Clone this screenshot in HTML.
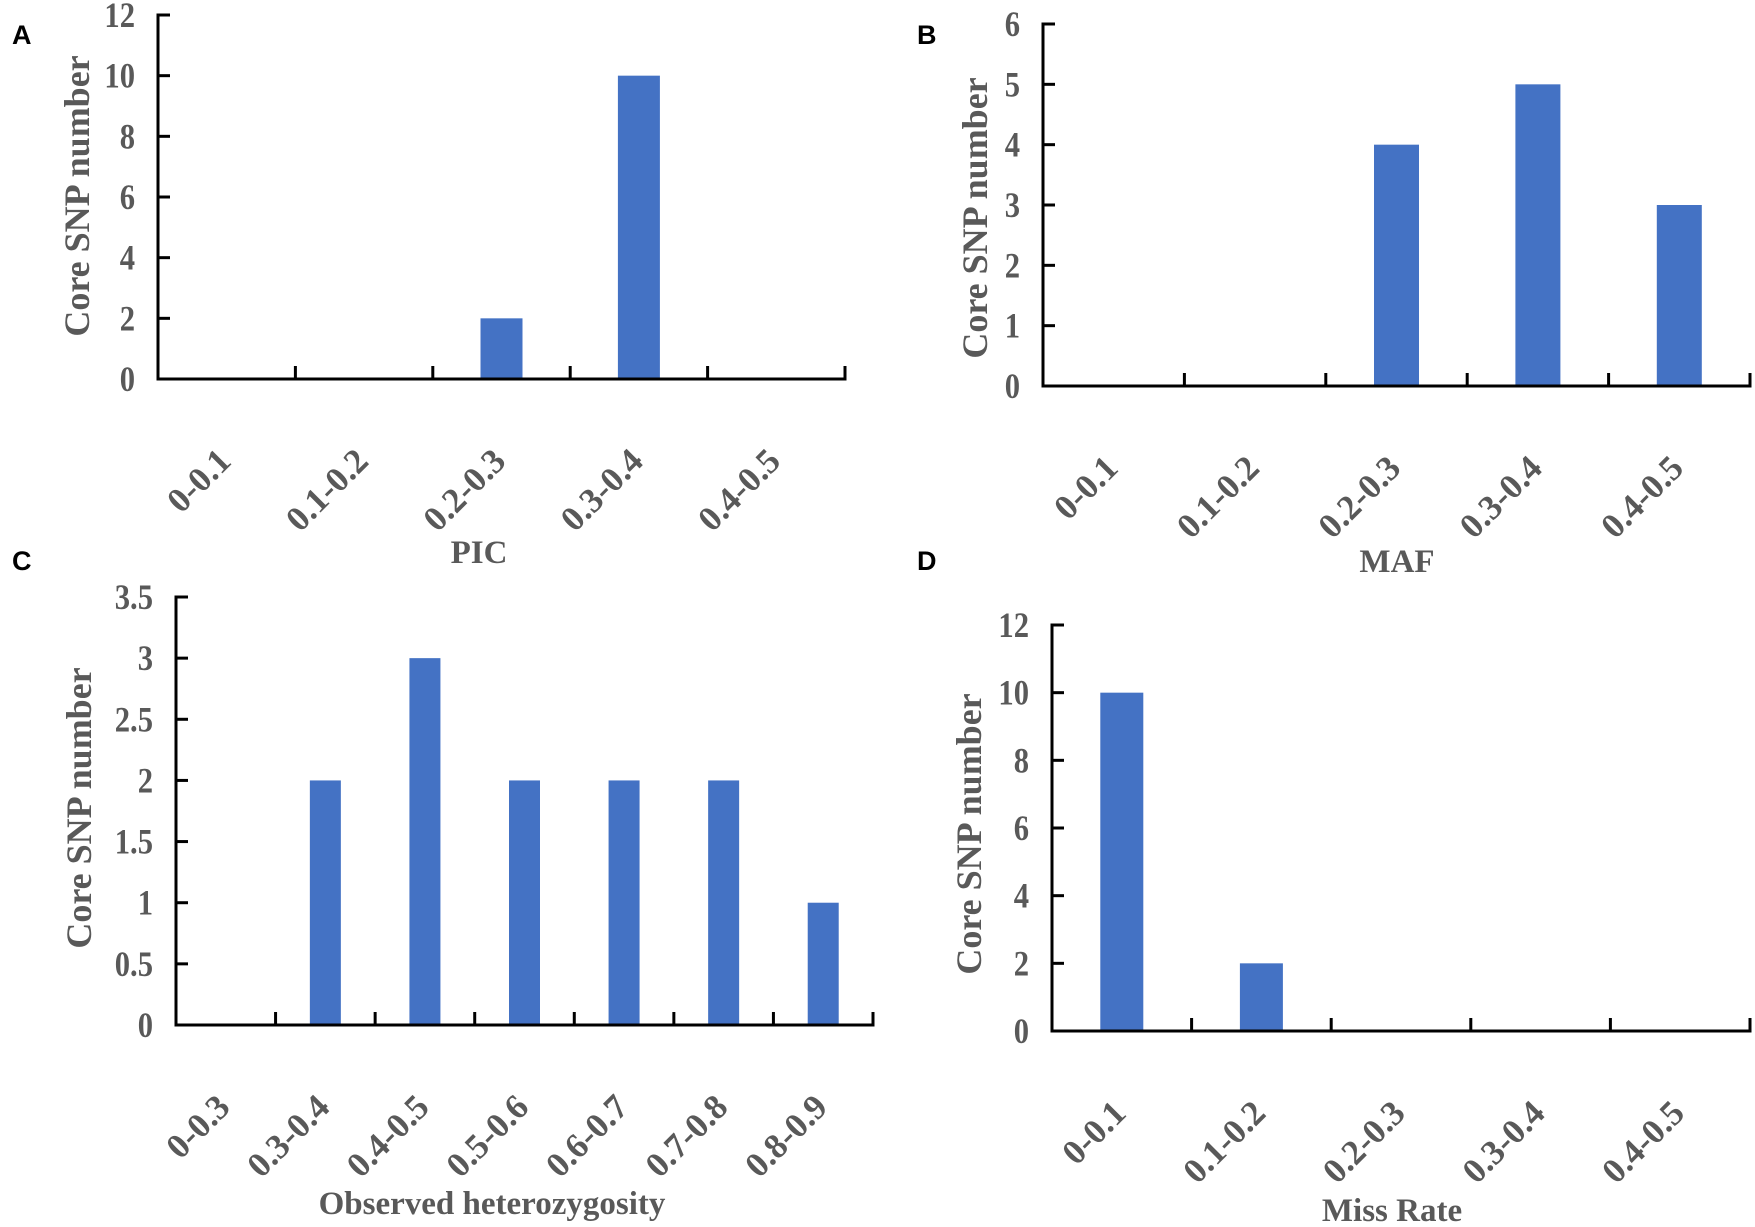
<!DOCTYPE html>
<html><head><meta charset="utf-8"><style>
html,body{margin:0;padding:0;background:#fff;}
svg{display:block;}
.tk{font-family:"Liberation Serif",serif;font-weight:bold;font-size:35px;fill:#595959;}
.ty{font-family:"Liberation Serif",serif;font-weight:bold;font-size:34px;fill:#595959;}
.tt{font-family:"Liberation Serif",serif;font-weight:bold;font-size:33px;fill:#595959;}
.yt{font-family:"Liberation Serif",serif;font-weight:bold;font-size:36px;fill:#595959;}
.pl{font-family:"Liberation Sans",sans-serif;font-weight:bold;font-size:27px;fill:#000;}
</style></head><body>
<svg id="fig" width="1755" height="1227" viewBox="0 0 1755 1227" xmlns="http://www.w3.org/2000/svg"></svg>
<script>
const catsA = ["0-0.1","0.1-0.2","0.2-0.3","0.3-0.4","0.4-0.5"];
const valsA = [0,0,2,10,0];
const ticksA = ["0","2","4","6","8","10","12"];
const catsB = ["0-0.1","0.1-0.2","0.2-0.3","0.3-0.4","0.4-0.5"];
const valsB = [0,0,4,5,3];
const ticksB = ["0","1","2","3","4","5","6"];
const catsC = ["0-0.3","0.3-0.4","0.4-0.5","0.5-0.6","0.6-0.7","0.7-0.8","0.8-0.9"];
const valsC = [0,2,3,2,2,2,1];
const ticksC = ["0","0.5","1","1.5","2","2.5","3","3.5"];
const catsD = ["0-0.1","0.1-0.2","0.2-0.3","0.3-0.4","0.4-0.5"];
const valsD = [10,2,0,0,0];
const ticksD = ["0","2","4","6","8","10","12"];

const NS="http://www.w3.org/2000/svg";
const svg=document.getElementById('fig');
function mk(tag,attrs,parent,text){
  const e=document.createElementNS(NS,tag);
  for(const k in attrs)e.setAttribute(k,attrs[k]);
  if(text!==undefined)e.textContent=text;
  parent.appendChild(e);return e;
}
function panel(id,letter,lx,ly,cats,vals,ticks,g,title,tx,ty,ytx,yty){
  const grp=mk('g',{},svg);
  
  
  const ymax=parseFloat(ticks[ticks.length-1]);
  const yS=v=>g.y0-(v/ymax)*(g.y0-g.yTop);
  const step=(g.x1-g.x0)/cats.length;
  const xC=i=>g.x0+step*(i+0.5);
  const pl=mk('text',{x:lx,y:ly,class:'pl'},grp,letter);
  
  
  vals.forEach((v,i)=>{
    if(v<=0)return;
    const r=mk('rect',{x:xC(i)-g.bw/2,y:yS(v),width:g.bw,height:g.y0-yS(v),fill:'#4472C4'},grp);
    
    
  });
  const ya=mk('line',{x1:g.x0,y1:g.yTop-1.5,x2:g.x0,y2:g.y0+1.5,stroke:'#000','stroke-width':3},grp);
  
  
  const xa=mk('line',{x1:g.x0,y1:g.y0,x2:g.x1+1.5,y2:g.y0,stroke:'#000','stroke-width':3},grp);
  
  
  ticks.forEach(t=>{
    const y=yS(parseFloat(t));
    mk('line',{x1:g.x0,y1:y,x2:g.x0+12,y2:y,stroke:'#000','stroke-width':3},grp);
    const tl=mk('text',{x:0,y:0,'text-anchor':'end',class:'ty',transform:`translate(${g.x0-23} ${y+12}) scale(0.9 1.05)`},grp,t);
    
    
  });
  cats.forEach((c,i)=>{
    const bx=g.x0+step*(i+1);
    mk('line',{x1:bx,y1:g.y0,x2:bx,y2:g.y0-13,stroke:'#000','stroke-width':3},grp);
    const ax=xC(i)+6, ay=g.y0+84;
    const tl=mk('text',{x:ax,y:ay,'text-anchor':'end',class:'tk',transform:`rotate(-45 ${ax} ${ay})`},grp,c);
    
    
  });
  const xt=mk('text',{x:tx,y:ty+11,'text-anchor':'middle',class:'tt'},grp,title);
  
  
  const yt=mk('text',{x:ytx+12,y:yty,'text-anchor':'middle',class:'yt',transform:`rotate(-90 ${ytx+12} ${yty})`},grp,'Core SNP number');
  
  
}
panel('a','A',12,44,catsA,valsA,ticksA,{x0:158,x1:845,yTop:15,y0:379,bw:42},'PIC',479,552,77,196);
panel('b','B',917,44,catsB,valsB,ticksB,{x0:1043,x1:1750,yTop:24,y0:386,bw:45},'MAF',1397,561,975,218);
panel('c','C',12,570,catsC,valsC,ticksC,{x0:176,x1:873,yTop:597,y0:1025,bw:31},'Observed heterozygosity',492,1203,79,808);
panel('d','D',917,570,catsD,valsD,ticksD,{x0:1052,x1:1750,yTop:625,y0:1031,bw:43},'Miss Rate',1392,1210,969,834);
</script>
</body></html>
